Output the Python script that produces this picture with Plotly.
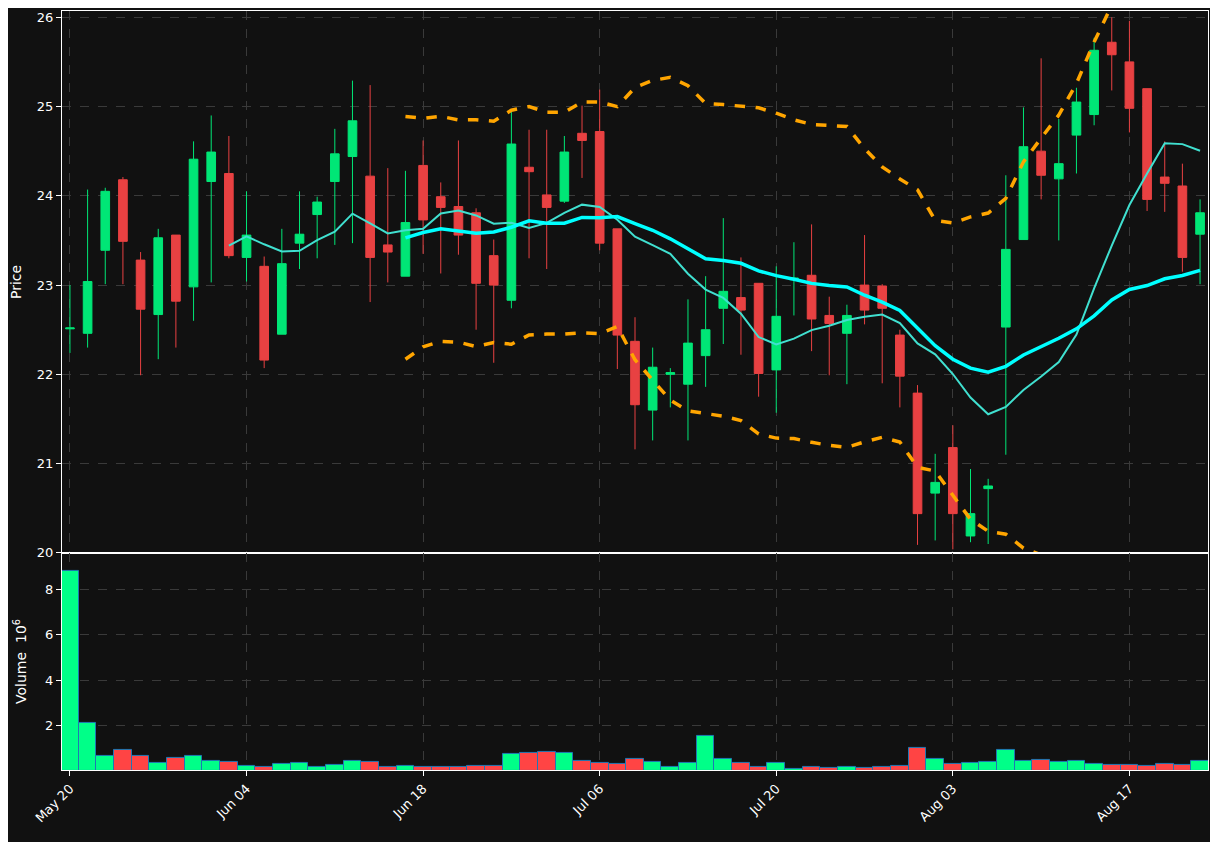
import numpy as np
import pandas as pd
import plotly.graph_objects as go
from plotly.subplots import make_subplots

# OHLC (one row per trading day, index 0..64)
opens = [22.51, 22.46, 23.39, 24.18, 23.28, 22.67, 23.56, 22.98, 24.16, 24.25,
         23.31, 23.21, 22.45, 23.47, 23.79, 24.16, 24.44, 24.22, 23.45, 23.10,
         24.34, 23.99, 23.88, 23.81, 23.33, 22.83, 24.32, 24.01, 23.94, 24.70,
         24.72, 23.63, 22.37, 21.60, 22.00, 21.89, 22.21, 22.74, 22.86, 23.02,
         22.05, 23.06, 23.11, 22.66, 22.46, 23.00, 22.99, 22.44, 21.79, 20.67,
         21.18, 20.19, 20.72, 22.53, 23.51, 24.50, 24.19, 24.68, 24.91, 25.72,
         25.50, 25.20, 24.21, 24.11, 23.57]
highs = [23.00, 24.07, 24.09, 24.21, 23.37, 23.63, 23.56, 24.61, 24.90, 24.67,
         24.05, 23.32, 23.63, 24.05, 23.99, 24.75, 25.29, 25.24, 24.31, 24.28,
         24.62, 24.15, 24.62, 23.86, 23.51, 24.95, 24.74, 24.74, 24.67, 25.01,
         25.19, 23.63, 22.64, 22.30, 22.07, 22.84, 23.10, 23.75, 23.31, 23.02,
         23.21, 23.48, 23.68, 22.87, 22.78, 23.56, 23.01, 22.50, 21.88, 21.11,
         21.43, 20.94, 20.83, 24.23, 24.99, 25.54, 24.86, 25.21, 25.77, 26.00,
         25.96, 25.20, 24.61, 24.36, 23.96]
lows = [22.24, 22.30, 23.01, 23.01, 21.99, 22.17, 22.30, 22.60, 23.03, 23.30,
        23.04, 22.07, 22.45, 23.18, 23.30, 23.45, 23.47, 22.81, 23.03, 23.10,
        23.35, 23.13, 23.34, 22.50, 22.13, 22.74, 23.30, 23.18, 23.92, 24.20,
        23.39, 22.06, 21.16, 21.26, 21.63, 21.26, 21.86, 22.34, 22.22, 21.75,
        21.57, 22.66, 22.26, 21.99, 21.89, 22.56, 21.90, 21.63, 20.09, 20.14,
        20.04, 20.12, 20.10, 21.10, 23.51, 23.96, 23.50, 24.25, 24.79, 25.18,
        24.71, 23.83, 23.82, 23.15, 23.01]
closes = [22.52, 23.04, 24.05, 23.49, 22.73, 23.53, 22.82, 24.41, 24.49, 23.33,
          23.56, 22.16, 23.24, 23.57, 23.93, 24.47, 24.84, 23.31, 23.37, 23.70,
          23.73, 23.87, 23.56, 23.02, 23.00, 24.58, 24.27, 23.87, 24.49, 24.62,
          23.47, 22.44, 21.66, 22.08, 22.02, 22.35, 22.50, 22.93, 22.72, 22.01,
          22.65, 23.08, 22.62, 22.57, 22.66, 22.72, 22.74, 21.98, 20.44, 20.79,
          20.44, 20.44, 20.75, 23.40, 24.55, 24.23, 24.36, 25.05, 25.63, 25.58,
          24.98, 23.96, 24.14, 23.31, 23.81]
volumes = [8.80, 2.10, 0.68, 0.95, 0.68, 0.37, 0.59, 0.68, 0.46, 0.41,
           0.24, 0.19, 0.33, 0.37, 0.19, 0.28, 0.46, 0.41, 0.19, 0.24,
           0.19, 0.19, 0.19, 0.24, 0.24, 0.77, 0.81, 0.86, 0.81, 0.46,
           0.37, 0.33, 0.55, 0.41, 0.19, 0.37, 1.57, 0.55, 0.37, 0.19,
           0.37, 0.10, 0.19, 0.15, 0.19, 0.15, 0.19, 0.24, 1.04, 0.55,
           0.33, 0.37, 0.41, 0.95, 0.46, 0.50, 0.41, 0.46, 0.33, 0.28,
           0.28, 0.24, 0.33, 0.28, 0.46]
tick_pos = [0, 10, 20, 30, 40, 50, 60]
tick_labels = ["May 20", "Jun 04", "Jun 18", "Jul 06", "Jul 20", "Aug 03", "Aug 17"]

x = list(range(len(closes)))
close_s = pd.Series(closes)
ma10 = close_s.rolling(10).mean()
ma20 = close_s.rolling(20).mean()
std20 = close_s.rolling(20).std(ddof=0)
upper = ma20 + 2 * std20
lower = ma20 - 2 * std20

GREEN = "#00e676"
RED = "#e84142"
up = np.array(closes) >= np.array(opens)
vol_colors = ["#00ff88" if u else "#ff4444" for u in up]

fig = make_subplots(rows=2, cols=1, shared_xaxes=True, vertical_spacing=0,
                    row_heights=[0.714, 0.286])

fig.add_trace(go.Candlestick(
    x=x, open=opens, high=highs, low=lows, close=closes,
    increasing=dict(line=dict(color=GREEN, width=1), fillcolor=GREEN),
    decreasing=dict(line=dict(color=RED, width=1), fillcolor=RED),
    whiskerwidth=0, showlegend=False), row=1, col=1)

fig.add_trace(go.Scatter(x=x, y=ma10, mode="lines", line=dict(color="#40e0d0", width=2),
                         showlegend=False), row=1, col=1)
fig.add_trace(go.Scatter(x=x, y=ma20, mode="lines", line=dict(color="#00ffff", width=3.5),
                         showlegend=False), row=1, col=1)
for band in (upper, lower):
    fig.add_trace(go.Scatter(x=x, y=band, mode="lines",
                             line=dict(color="#ffa500", width=3.5, dash="dash"),
                             showlegend=False), row=1, col=1)

fig.add_trace(go.Bar(x=x, y=volumes, marker=dict(color=vol_colors,
                     line=dict(color="#1f77b4", width=1)), width=1.0,
                     showlegend=False), row=2, col=1)

axis_style = dict(showgrid=True, gridcolor="#3a3a3a", griddash="dash", gridwidth=1,
                  showline=True, linecolor="white", linewidth=1, mirror=True,
                  tickfont=dict(color="white", size=13), zeroline=False,
                  ticks="outside", tickcolor="white", automargin=False)

fig.update_xaxes(**axis_style, range=[-0.45, 64.45], rangeslider_visible=False)
fig.update_xaxes(tickvals=tick_pos, ticktext=tick_labels, tickangle=-45, row=2, col=1)
fig.update_xaxes(tickvals=tick_pos, showticklabels=False, row=1, col=1)
fig.update_yaxes(**axis_style)
fig.update_yaxes(range=[20, 26.07], dtick=1, title=dict(text="Price", font=dict(color="white", size=14)),
                 row=1, col=1)
fig.update_yaxes(range=[0.05, 9.6], tickvals=[2, 4, 6, 8],
                 title=dict(text="Volume  10<sup>6</sup>", font=dict(color="white", size=14)),
                 row=2, col=1)

fig.update_layout(
    width=1218, height=842,
    paper_bgcolor="#111111", plot_bgcolor="#111111",
    margin=dict(l=54, r=18, t=3, b=80),
    font=dict(family="DejaVu Sans", color="white"),
    bargap=0,
)

fig.write_html("out.html")
